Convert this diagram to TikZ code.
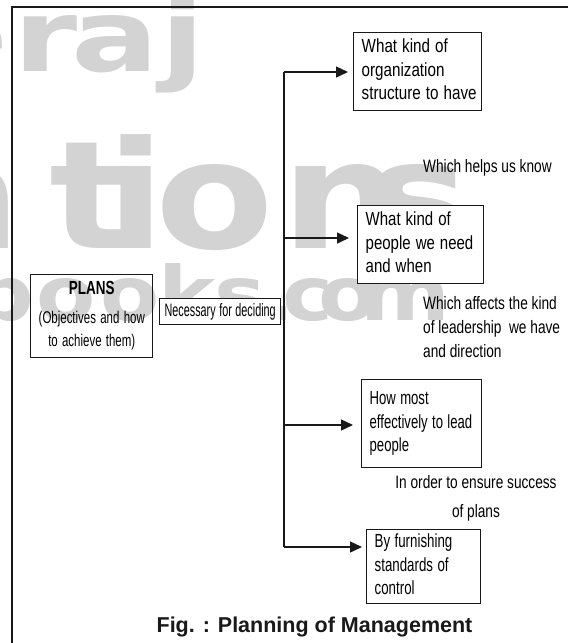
\documentclass[tikz,border=0pt]{standalone}
\usepackage{fontspec}
\usepackage{graphicx}
\setmainfont{Liberation Sans}
\newfontfamily\wmfontA[FakeStretch=1.3]{DejaVu Sans}
\newfontfamily\wmfont[FakeStretch=1.15]{DejaVu Sans}
\usetikzlibrary{arrows.meta}
\definecolor{wm}{RGB}{211,211,211}
\definecolor{ink}{RGB}{25,25,25}
\newcommand{\sqzl}[2]{\scalebox{#1}[1]{\begin{tabular}{@{}l@{}}#2\end{tabular}}}
\newcommand{\sqzc}[2]{\scalebox{#1}[1]{\begin{tabular}{@{}c@{}}#2\end{tabular}}}
\tikzset{
  bx/.style={draw=ink, line width=1.4pt, anchor=north west, inner xsep=8pt, inner ysep=0pt,
    align=left, fill=white, font=\fontsize{19}{23.5}\selectfont},
  ln/.style={draw=ink, line width=1.4pt},
  arr/.style={ln, -{Triangle[length=12pt,width=11pt]}},
  free/.style={inner sep=0pt, font=\fontsize{18}{24}\selectfont},
  wmA/.style={anchor=base west, inner sep=0pt, text=wm, font=\wmfontA\bfseries\fontsize{100}{100}\selectfont},
  wmB/.style={anchor=base west, inner sep=0pt, text=wm, font=\wmfont\bfseries\fontsize{150}{150}\selectfont},
  wmC/.style={anchor=base west, inner sep=0pt, text=wm, font=\wmfont\bfseries\fontsize{75}{75}\selectfont}
}
\begin{document}
\begin{tikzpicture}[x=1pt,y=-1pt]
\useasboundingbox (0,0) rectangle (568,643);
\fill[white] (0,0) rectangle (568,643);
% watermark
\begin{scope}
\clip (0,0) rectangle (568,643);
\foreach \c/\x [count=\i] in {e/-80, r/13, a/71, j/160}
  \node[wmA] (wa\i) at (\x,71) {\c};
\foreach \c/\x [count=\i] in {a/-95, t/49, i/106, o/155, n/281, s/367}
  \node[wmB] (wb\i) at (\x,248) {\c};
\foreach \c/\x [count=\i] in {b/-28, o/36, o/100, k/158, s/214, ./262, c/282, o/318, m/360}
  \node[wmC] (wc\i) at (\x,320) {\c};
\end{scope}
% frame
\coordinate (fTR) at (568,7);
\coordinate (fTL) at (12,7);
\coordinate (fBL) at (12,643);
\draw[ln, line width=1.8pt] (fTR) -- (fTL) -- (fBL);
% trunk
\coordinate (j1) at (284,72);
\coordinate (j2) at (284,238);
\coordinate (j3) at (284,425);
\coordinate (j4) at (284,547);
\draw[ln] (j1) -- (j4);
% boxes
\node[bx, text width=112pt, minimum height=78pt] (b1) at (353,32)
  {\sqzl{0.8}{What kind of\\organization\\structure to have}};
\node[bx, text width=110pt, minimum height=78pt] (b2) at (357,205)
  {\sqzl{0.79}{What kind of\\people we need\\and when}};
\node[bx, text width=104pt, minimum height=88pt] (b3) at (361,379)
  {\sqzl{0.69}{How most\\effectively to lead\\people}};
\node[bx, text width=98pt, minimum height=74pt] (b4) at (366,529)
  {\sqzl{0.7}{By furnishing\\standards of\\control}};
\node[bx, fill=none, text width=106pt, minimum height=83pt, align=center] (plans) at (30,274)
  {\begin{tabular}{@{}c@{}}\scalebox{0.71}[1]{\bfseries\fontsize{19}{23}\selectfont PLANS}\\[5pt]
   \sqzc{0.675}{\fontsize{17}{23}\selectfont (Objectives and how\\\fontsize{17}{23}\selectfont to achieve them)}\end{tabular}};
\node[bx, text width=113pt, inner xsep=4pt, minimum height=26pt, align=center, font=\fontsize{18}{22}\selectfont] (nec) at (159,298)
  {\scalebox{0.6}[1]{Necessary for deciding}};
% arrows
\draw[arr, shorten >=5pt] (j1) -- (j1 -| b1.west);
\draw[arr, shorten >=8pt] (j2) -- (j2 -| b2.west);
\draw[arr, shorten >=8pt] (j3) -- (j3 -| b3.west);
\draw[arr, shorten >=4pt] (j4) -- (j4 -| b4.west);
% free texts
\node[free, anchor=west] (t1) at (423,168) {\scalebox{0.76}[1]{Which helps us know}};
\node[free, anchor=west] (t2) at (423,329) {\sqzl{0.76}{Which affects the kind\\of leadership\ \ we have\\and direction}};
\node[free, font=\fontsize{18}{29}\selectfont] (t3) at (476,497.5) {\sqzc{0.76}{In order to ensure success\\of plans}};
% caption
\node[inner sep=0pt, font=\bfseries\fontsize{21.5}{24}\selectfont, text=ink] (cap) at (314.5,627) {Fig. : Planning of Management};
\end{tikzpicture}
\end{document}
